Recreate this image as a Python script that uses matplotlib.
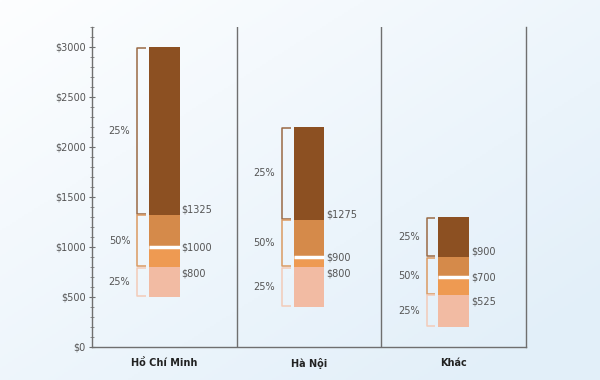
import numpy as np
import matplotlib
matplotlib.use("Agg")
import matplotlib.pyplot as plt
from matplotlib.ticker import MultipleLocator, FuncFormatter

categories = ['Hồ Chí Minh', 'Hà Nội', 'Khác']
mins = [500, 400, 200]
q1 = [800, 800, 525]
medians = [1000, 900, 700]
q3 = [1325, 1275, 900]
maxs = [3000, 2200, 1300]
pct_labels = ['25%', '50%', '25%']

c_dark = '#8C5022'
c_mid = '#D58A4A'
c_org = '#EE9A52'
c_light = '#F2BBA3'
br_dark = '#9A6A45'
br_mid = '#DB9A62'
br_light = '#F3CBB8'
txt = '#555555'

fig = plt.figure(figsize=(6, 3.8), dpi=100)

# background gradient
bg = fig.add_axes([0, 0, 1, 1], zorder=-10)
xx, yy = np.meshgrid(np.linspace(0, 1, 300), np.linspace(0, 1, 190))
t = np.clip(0.55 * xx + 0.55 * yy, 0, 1)
top = np.array([253, 254, 255]) / 255
bot = np.array([226, 239, 249]) / 255
img = top[None, None, :] * (1 - t[..., None]) + bot[None, None, :] * t[..., None]
bg.imshow(img, aspect='auto', extent=[0, 1, 0, 1], origin='upper')
bg.axis('off')

ax = fig.add_axes([92 / 600, 33 / 380, 434 / 600, 320 / 380])
ax.set_facecolor('none')
ax.set_xlim(0, 3)
ax.set_ylim(0, 3200)

x = np.arange(len(categories)) + 0.5
w = 0.214
for i, xc in enumerate(x):
    ax.bar(xc, q1[i] - mins[i], bottom=mins[i], width=w, color=c_light, zorder=3)
    ax.bar(xc, medians[i] - q1[i], bottom=q1[i], width=w, color=c_org, zorder=3)
    ax.bar(xc, q3[i] - medians[i], bottom=medians[i], width=w, color=c_mid, zorder=3)
    ax.bar(xc, maxs[i] - q3[i], bottom=q3[i], width=w, color=c_dark, zorder=3)
    ax.hlines(medians[i], xc - w / 2, xc + w / 2, color='white', lw=2.5, zorder=4)

    # brackets
    bx = xc - w / 2 - 0.08
    tx = xc - w / 2 - 0.02
    segs = [(q3[i], maxs[i], br_dark), (q1[i], q3[i], br_mid), (mins[i], q1[i], br_light)]
    for (lo, hi, col), lab in zip(segs, pct_labels[::-1]):
        pass
    for (lo, hi, col), lab in zip(segs, ['25%', '50%', '25%']):
        ax.plot([tx, bx, bx, tx], [lo + 8, lo + 8, hi - 8, hi - 8], color=col, lw=1.1,
                solid_capstyle='butt', zorder=3)
        ax.text(xc - 0.31, (lo + hi) / 2, lab, ha='center', va='center',
                fontsize=7, color=txt)

    lx = xc + w / 2 + 0.012
    ax.text(lx, q3[i] + 50, f'${q3[i]}', ha='left', va='center', fontsize=7, color=txt)
    ax.text(lx, medians[i], f'${medians[i]}', ha='left', va='center', fontsize=7, color=txt)
    ax.text(lx, q1[i] - 65, f'${q1[i]}', ha='left', va='center', fontsize=7, color=txt)

# dividers
for d in [1, 2]:
    ax.axvline(d, color='#6f6f6f', lw=1.0, zorder=2)

for s in ['left', 'bottom', 'right']:
    ax.spines[s].set_color('#6f6f6f')
    ax.spines[s].set_linewidth(1.0)
ax.spines['top'].set_visible(False)

ax.yaxis.set_major_locator(MultipleLocator(500))
ax.yaxis.set_minor_locator(MultipleLocator(100))
ax.yaxis.set_major_formatter(FuncFormatter(lambda v, p: f'${int(v)}'))
ax.tick_params(axis='y', which='major', direction='inout', length=5, width=0.8,
               color='#6f6f6f', labelsize=7, labelcolor=txt, pad=2)
ax.tick_params(axis='y', which='minor', direction='inout', length=3.5, width=0.7,
               color='#8f8f8f')
ax.set_xticks(x)
ax.set_xticklabels(categories, fontsize=7, fontweight='bold', color='#222222')
ax.tick_params(axis='x', length=0, pad=8)

fig.savefig('out.png', dpi=100)
